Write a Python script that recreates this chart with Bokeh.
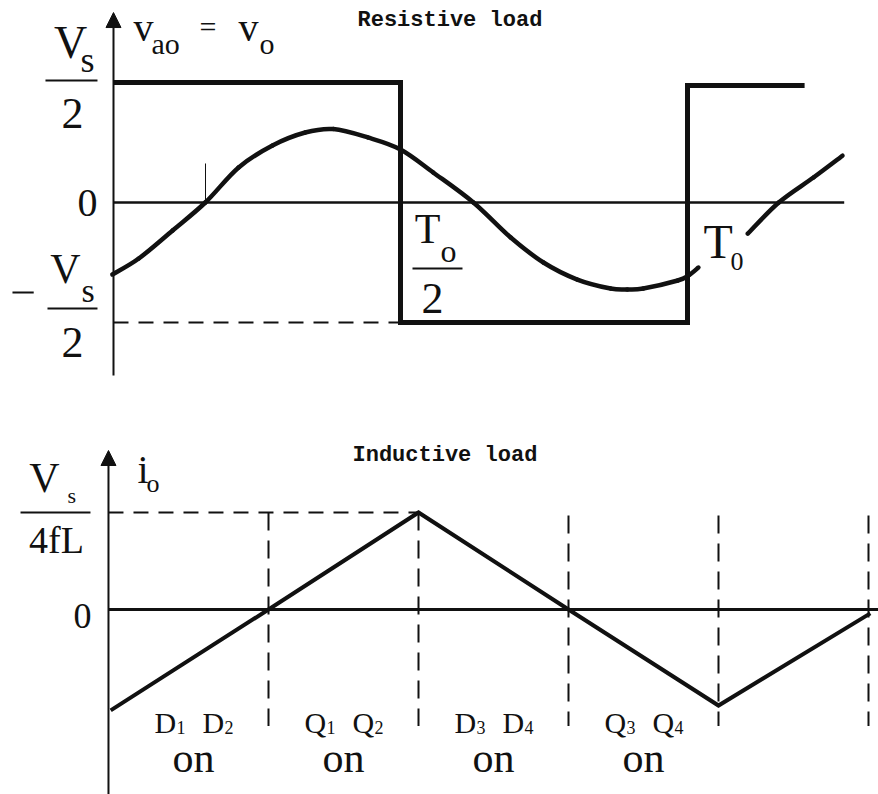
from bokeh.plotting import figure
from bokeh.layouts import column
from bokeh.models import Range1d, Arrow, NormalHead
from bokeh.core.properties import value
from bokeh.embed import file_html
from bokeh.resources import INLINE

# ---- Resistive load: output voltage (units of Vs/2) against time (units of T0)
square_t = [0.0, 0.5, 0.5, 1.0, 1.0, 1.204]
square_v = [1.0, 1.0, -1.0, -1.0, 0.975, 0.975]

# fundamental component sketched over the square wave
fund_t = [-0.002, 0.044, 0.103, 0.160, 0.218, 0.277, 0.334, 0.383, 0.443, 0.500,
          0.557, 0.627, 0.692, 0.749, 0.808, 0.866, 0.895, 0.923, 0.983, 1.002, 1.019]
fund_v = [-0.60, -0.467, -0.233, 0.0, 0.292, 0.475, 0.583, 0.612, 0.542, 0.442,
          0.25, 0.0, -0.292, -0.50, -0.642, -0.717, -0.725, -0.717, -0.65, -0.608, -0.542]
fund2_t = [1.105, 1.159, 1.220, 1.270]
fund2_v = [-0.26, 0.00, 0.21, 0.39]

# ---- Inductive load: output current (units of Vs/4fL) against time (units of T0)
cur_t = [-0.013, 0.25, 0.5, 0.75, 1.0, 1.253]
cur_i = [-1.04, 0.0, 1.0, 0.0, -0.99, -0.04]

# conduction intervals and the devices that carry the current
interval_mid = [0.125, 0.375, 0.625, 0.875]
dev_first = ["D", "Q", "D", "Q"]
sub_first = ["1", "1", "3", "3"]
dev_second = ["D", "Q", "D", "Q"]
sub_second = ["2", "2", "4", "4"]
state_text = ["on", "on", "on", "on"]
boundary_t = [0.25, 0.5, 0.75, 1.0, 1.25]

INK = "#111111"
SERIF = "Liberation Serif"
MONO = "Liberation Mono"


def panel(height, xr, yr):
    p = figure(width=878, height=height, x_range=Range1d(*xr), y_range=Range1d(*yr),
               output_backend="svg", toolbar_location=None, min_border=0,
               x_axis_location=None, y_axis_location=None)
    p.grid.visible = False
    p.outline_line_color = None
    p.background_fill_color = "white"
    p.border_fill_color = "white"
    return p


def label(p, x, y, text, size, align="left", font=SERIF, weight="normal", dx=0):
    # (x, y) is the baseline point of the text
    p.text(x=[x], y=[y], text=[text], text_font=value(font),
           text_font_size=f"{size}px", text_align=align, text_baseline="alphabetic",
           text_color=INK, text_font_style=weight, x_offset=dx, y_offset=-0.35 * size)


def smooth(p, xs, ys, width):
    # Catmull-Rom curve through the given points, drawn as cubic Bezier pieces
    n = len(xs)
    x0, y0, x1, y1, cx0, cy0, cx1, cy1 = ([] for _ in range(8))
    for k in range(n - 1):
        a = max(k - 1, 0)
        d = min(k + 2, n - 1)
        x0.append(xs[k]); y0.append(ys[k])
        x1.append(xs[k + 1]); y1.append(ys[k + 1])
        cx0.append(xs[k] + (xs[k + 1] - xs[a]) / 6.0)
        cy0.append(ys[k] + (ys[k + 1] - ys[a]) / 6.0)
        cx1.append(xs[k + 1] - (xs[d] - xs[k]) / 6.0)
        cy1.append(ys[k + 1] - (ys[d] - ys[k]) / 6.0)
    p.bezier(x0=x0, y0=y0, x1=x1, y1=y1, cx0=cx0, cy0=cy0, cx1=cx1, cy1=cy1,
             line_width=width, line_color=INK, line_cap="round")


def vaxis(p, x, y0, y1):
    p.add_layout(Arrow(x_start=x, y_start=y0, x_end=x, y_end=y1, line_width=2,
                       line_color=INK,
                       end=NormalHead(size=15, fill_color=INK, line_color=INK)))


# ================= top panel =================
top = panel(400, (-0.19686, 1.33275), (-1.65, 1.6833))
vaxis(top, 0.0, -1.442, 1.583)
top.line([0.0, 1.273], [0.0, 0.0], line_width=2.5, color=INK)
top.line([0.0, 0.5], [-1.0, -1.0], line_width=2, color=INK, line_dash="15 10")
top.line([0.1603, 0.1603], [0.0, 0.325], line_width=1, color=INK)
top.line(square_t, square_v, line_width=5, color=INK, line_join="miter")
smooth(top, fund_t, fund_v, 4.5)
smooth(top, fund2_t, fund2_v, 4.5)

# Vs/2
label(top, -0.0749, 1.2, "V", 46, "center")
label(top, -0.0575, 1.083, "s", 36)
top.line([-0.1185, -0.0279], [1.0167, 1.0167], line_width=2, color=INK)
label(top, -0.0714, 0.617, "2", 44, "center")
# 0
label(top, -0.0453, -0.125, "0", 40, "center")
# -Vs/2
top.line([-0.176, -0.139], [-0.75, -0.75], line_width=2, color=INK)
label(top, -0.0836, -0.675, "V", 42, "center")
label(top, -0.0557, -0.833, "s", 34)
top.line([-0.115, -0.0279], [-0.883, -0.883], line_width=2, color=INK)
label(top, -0.0714, -1.292, "2", 44, "center")
# v_ao = v_o
label(top, 0.0348, 1.34, "v", 40)
label(top, 0.0662, 1.24, "ao", 30)
label(top, 0.150, 1.38, "=", 30)
label(top, 0.2178, 1.34, "v", 40)
label(top, 0.2544, 1.24, "o", 30)
# title
label(top, 0.4251, 1.45, "Resistive load", 22, font=MONO, weight="bold")
# T0/2
label(top, 0.547, -0.342, "T", 42, "center")
label(top, 0.5697, -0.5, "o", 32)
top.line([0.5209, 0.608], [-0.55, -0.55], line_width=2, color=INK)
label(top, 0.5557, -0.925, "2", 44, "center")
# T0
label(top, 1.0279, -0.467, "T", 48)
label(top, 1.0749, -0.567, "0", 26)

# ================= bottom panel =================
bot = panel(394, (-0.19667, 1.26667), (-1.9072, 2.1546))
vaxis(bot, -0.0167, -1.9072, 1.639)
bot.line([-0.0167, 1.2667], [0.0, 0.0], line_width=3, color=INK)
bot.line([-0.0167, 0.5], [1.0, 1.0], line_width=2, color=INK, line_dash="15 10")
for t in boundary_t:
    top_i = 1.0 if t <= 0.5 else 0.97
    bot.line([t, t], [top_i, -1.2], line_width=2, color=INK, line_dash="18 10")
bot.line(cur_t, cur_i, line_width=4, color=INK, line_join="miter")

# Vs/4fL
label(bot, -0.1233, 1.206, "V", 42, "center")
label(bot, -0.085, 1.093, "s", 22)
bot.line([-0.1633, -0.0467], [1.0, 1.0], line_width=2, color=INK)
label(bot, -0.1033, 0.577, "4fL", 38, "center")
label(bot, -0.06, -0.196, "0", 36, "center")
# i_o
label(bot, 0.0317, 1.299, "i", 40)
label(bot, 0.0467, 1.206, "o", 26)
label(bot, 0.39, 1.505, "Inductive load", 22, font=MONO, weight="bold")

for m, a, sa, b, sb, s in zip(interval_mid, dev_first, sub_first, dev_second, sub_second, state_text):
    label(bot, m, -1.278, a, 30, dx=-39)
    label(bot, m, -1.278, sa, 18, dx=-17)
    label(bot, m, -1.278, b, 30, dx=9)
    label(bot, m, -1.278, sb, 18, dx=31)
    label(bot, m, -1.68, s, 42, "center")

layout = column(top, bot, spacing=0)
open("out.html", "w").write(file_html(layout, INLINE))
